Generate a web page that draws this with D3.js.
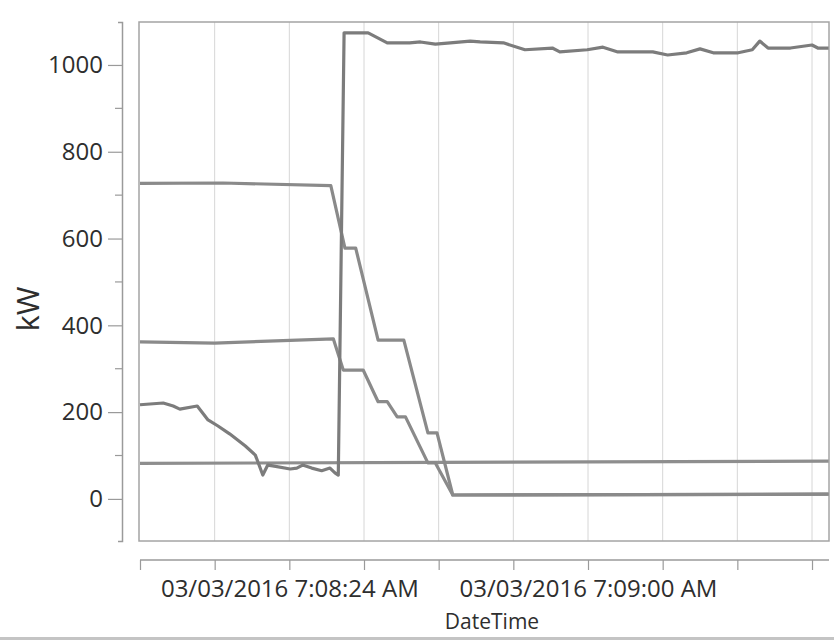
<!DOCTYPE html>
<html>
<head>
<meta charset="utf-8">
<script src="https://cdn.jsdelivr.net/npm/d3@7/dist/d3.min.js"></script>
<style>
  html, body { margin: 0; padding: 0; background: #ffffff; }
  svg { display: block; }
  text { font-family: "Open Sans", "Noto Sans", sans-serif; fill: #2e2e2e; }
</style>
</head>
<body>
<svg id="chart" width="834" height="640"></svg>
<script>
// ---------------- data ----------------
const baseTime = new Date(2016, 2, 3, 7, 8, 6);          // 03/03/2016 7:08:06 AM
const xDomainSec = [0, 83];                                 // seconds after baseTime
const xTickSec = [0, 9, 18, 27, 36, 45, 54, 63, 72, 81];
const xLabelSec = [18, 54];                                 // 7:08:24 and 7:09:00
const yMajorTicks = [0, 200, 400, 600, 800, 1000];
const yMinorTicks = [100, 300, 500, 700, 900];
const yDomain = [-97, 1099];

const seriesA_sec = [0, 10, 23, 24.7, 26, 28.7, 31.8, 34.7, 35.8, 37.7, 83];
const seriesA_kw  = [727, 728, 722, 578, 578, 366, 366, 152, 152, 9, 11];

const seriesB_sec = [0, 9, 23.3, 24.5, 26.9, 28.7, 29.8, 31, 32, 34.7, 35.6, 37.7, 83];
const seriesB_kw  = [362, 359, 369, 297, 297, 224, 224, 189, 189, 83, 83, 9, 11];

const seriesC_sec = [0, 2.8, 4, 4.8, 6.9, 8.2, 9.4, 10.8, 12.7, 13.9, 14.8, 15.4, 16, 18.1, 18.9,
                     19.6, 20.7, 21.9, 22.9, 23.5, 23.9, 24.6, 27.5, 29.8, 32.5, 33.8, 35.6, 37.4,
                     39.8, 41, 43.8, 46.4, 49.7, 50.6, 53.9, 55.8, 57.6, 61.8, 63.6, 65.9, 67.5,
                     69.1, 72.1, 73.8, 74.7, 75.7, 78.4, 81, 81.7, 83];
const seriesC_kw  = [217, 221, 214, 207, 214, 182, 168, 150, 122, 101, 55, 78, 76, 69, 71,
                     78, 71, 65, 71, 60, 55, 1074, 1074, 1051, 1051, 1053, 1048, 1051,
                     1055, 1053, 1051, 1035, 1039, 1030, 1035, 1041, 1030, 1030, 1023, 1028, 1037,
                     1028, 1028, 1035, 1055, 1039, 1039, 1046, 1039, 1039];

const seriesD_sec = [0, 36, 83];
const seriesD_kw  = [82, 84, 87];

// ---------------- drawing ----------------
const svg = d3.select("#chart");
const plot = { left: 139, top: 22, right: 829, bottom: 541 };
const toDate = s => new Date(baseTime.getTime() + s * 1000);

const x = d3.scaleTime()
  .domain(xDomainSec.map(toDate))
  .range([140, 828.6]);
const y = d3.scaleLinear().domain(yDomain).range([plot.bottom, plot.top]);

// vertical gridlines
svg.append("g").selectAll("line")
  .data(xTickSec.filter(s => s > 0))
  .join("line")
  .attr("x1", d => x(toDate(d))).attr("x2", d => x(toDate(d)))
  .attr("y1", plot.top).attr("y2", plot.bottom)
  .attr("stroke", "#d6d6d6").attr("stroke-width", 1);

// plot frame
svg.append("rect")
  .attr("x", plot.left).attr("y", plot.top)
  .attr("width", plot.right - plot.left).attr("height", plot.bottom - plot.top)
  .attr("fill", "none").attr("stroke", "#a4a4a4").attr("stroke-width", 1.5);

// clip
svg.append("clipPath").attr("id", "clip").append("rect")
  .attr("x", plot.left).attr("y", plot.top)
  .attr("width", plot.right - plot.left).attr("height", plot.bottom - plot.top);

const line = d3.line().x(d => x(toDate(d[0]))).y(d => y(d[1]));
const series = [
  { sec: seriesD_sec, kw: seriesD_kw, color: "#8e8e8e" },
  { sec: seriesB_sec, kw: seriesB_kw, color: "#8a8a8a" },
  { sec: seriesA_sec, kw: seriesA_kw, color: "#8a8a8a" },
  { sec: seriesC_sec, kw: seriesC_kw, color: "#7c7c7c" }
];
svg.append("g").attr("clip-path", "url(#clip)")
  .selectAll("path").data(series).join("path")
  .attr("d", s => line(s.sec.map((t, i) => [t, s.kw[i]])))
  .attr("fill", "none")
  .attr("stroke", s => s.color)
  .attr("stroke-width", 3.2)
  .attr("stroke-linejoin", "round");

// y axis
const yAxisG = svg.append("g").attr("transform", "translate(122,0)")
  .call(d3.axisLeft(y).tickValues(yMajorTicks).tickFormat(d3.format("d"))
    .tickSize(14).tickSizeOuter(4).tickPadding(5));
yAxisG.append("g").selectAll("line").data(yMinorTicks).join("line")
  .attr("x1", -7).attr("x2", 0)
  .attr("y1", d => y(d)).attr("y2", d => y(d))
  .attr("stroke", "#9a9a9a").attr("stroke-width", 1.2);
yAxisG.selectAll(".domain").attr("stroke", "#9a9a9a").attr("stroke-width", 1.5);
yAxisG.selectAll(".tick line").attr("stroke", "#9a9a9a").attr("stroke-width", 1.2);
yAxisG.selectAll(".tick text").style("font-size", "24px").attr("fill", "#2e2e2e")
  .style("font-family", "'Open Sans', sans-serif");

// x axis
const fmt = d3.timeFormat("%m/%d/%Y %-I:%M:%S %p");
const labelSet = new Set(xLabelSec.map(s => toDate(s).getTime()));
const xAxisG = svg.append("g").attr("transform", "translate(0,560)")
  .call(d3.axisBottom(x).tickValues(xTickSec.map(toDate))
    .tickSize(10).tickSizeOuter(0).tickPadding(10)
    .tickFormat(d => labelSet.has(d.getTime()) ? fmt(d) : ""));
xAxisG.select(".domain").attr("d", `M${plot.left + 1},0H${plot.right}`)
  .attr("stroke", "#9a9a9a").attr("stroke-width", 1.5);
xAxisG.selectAll(".tick line").attr("stroke", "#9a9a9a").attr("stroke-width", 1.2);
xAxisG.selectAll(".tick text").style("font-size", "24px").attr("fill", "#2e2e2e")
  .style("font-family", "'Open Sans', sans-serif");

// axis titles
svg.append("text")
  .attr("x", 492).attr("y", 629)
  .attr("text-anchor", "middle")
  .style("font-size", "21px")
  .text("DateTime");
svg.append("text")
  .attr("transform", "translate(39,309) rotate(-90)")
  .attr("text-anchor", "middle")
  .style("font-size", "31px")
  .text("kW");

// scan edge at bottom
svg.append("rect").attr("x", 0).attr("y", 637).attr("width", 834).attr("height", 3)
  .attr("fill", "#c4c4c4");
</script>
</body>
</html>
